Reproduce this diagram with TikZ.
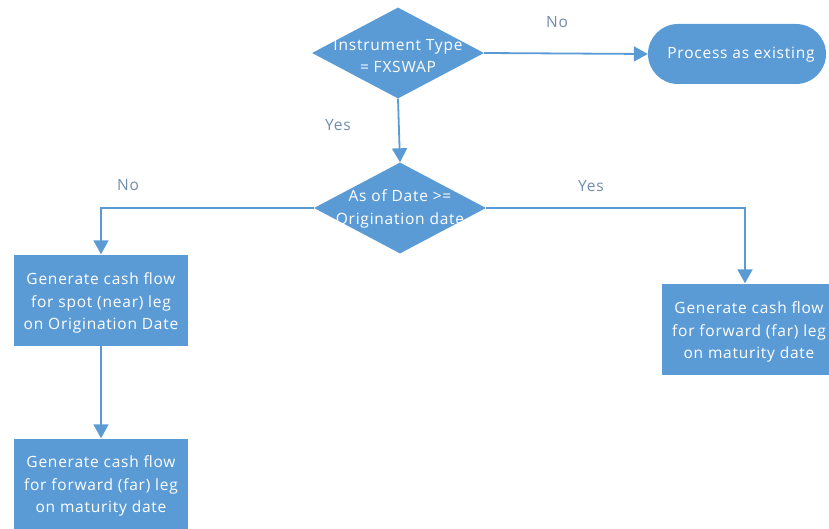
\documentclass[tikz,border=0pt]{standalone}
\usepackage{fontspec}
\setmainfont[LetterSpace=5]{Open Sans}
\usetikzlibrary{shapes.geometric,arrows.meta}
\definecolor{fcblue}{HTML}{5B9BD5}
\definecolor{lblc}{HTML}{6F8CAE}
\begin{document}
\begin{tikzpicture}[x=1pt,y=-1pt,
  every node/.style={font=\fontsize{15.5}{22.5}\selectfont},
  dec/.style={diamond,fill=fcblue,minimum width=172pt,minimum height=91pt,inner sep=0pt},
  proc/.style={rectangle,fill=fcblue,minimum width=174pt,minimum height=91pt,inner sep=0pt},
  term/.style={rectangle,rounded corners=30pt,fill=fcblue,minimum width=178pt,minimum height=60pt,inner sep=0pt},
  txt/.style={text=white,align=center,inner sep=0pt},
  lbl/.style={text=lblc,inner sep=0pt},
  conn/.style={draw=fcblue,line width=1.8pt,-{Triangle[width=15pt,length=14pt]}}]
\useasboundingbox (0,0) rectangle (829,529);
\node[dec] (d1) at (398,53) {};
\node[txt] (d1t) at (398,56) {Instrument Type\\= FXSWAP};
\node[term] (t1) at (737,54) {};
\node[txt] (t1t) at (741,55) {Process as existing};
\node[dec] (d2) at (400,208) {};
\node[txt] (d2t) at (400,209) {As of Date >=\\Origination date};
\node[proc] (b1) at (101,300) {};
\node[txt] (b1t) at (101,303) {Generate cash flow\\for spot (near) leg\\on Origination Date};
\node[proc] (b2) at (101,484) {};
\node[txt] (b2t) at (101,486) {Generate cash flow\\for forward (far) leg\\on maturity date};
\node[proc] (b3) at (749,329) {};
\node[txt] (b3t) at (749,332) {Generate cash flow\\for forward (far) leg\\on maturity date};
\coordinate (c1) at (101,208);
\coordinate (c2) at (745,208);
\draw[conn] (d1.east) -- (t1.west);
\draw[conn] (d1.south) -- (d2.north);
\draw[conn] (d2.west) -- (c1) -- (b1.north);
\draw[conn] (d2.east) -- (c2) -- (b3.north -| c2);
\draw[conn] (b1.south) -- (b2.north);
\node[lbl] (l1) at (557,22) {No};
\node[lbl] (l2) at (338,125) {Yes};
\node[lbl] (l3) at (128,185) {No};
\node[lbl] (l4) at (591,186) {Yes};
\end{tikzpicture}
\end{document}
